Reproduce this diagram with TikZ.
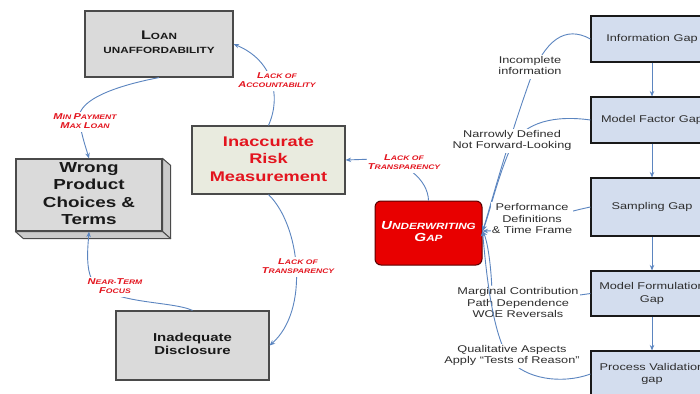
\documentclass[tikz,border=0pt]{standalone}
\usepackage{fontspec}
\setmainfont{Liberation Sans}
\usetikzlibrary{arrows.meta}
\definecolor{arrblue}{HTML}{5B85C0}
\definecolor{boxgray}{HTML}{DADADA}
\definecolor{boxside}{HTML}{CBCBCB}
\definecolor{boxedge}{HTML}{4A4A4A}
\definecolor{greenbox}{HTML}{E9EBDF}
\definecolor{bluebox}{HTML}{D3DDEE}
\definecolor{labred}{HTML}{E3141E}
\definecolor{labgray}{HTML}{2E2E2E}
\definecolor{ugred}{HTML}{E80000}
\definecolor{ugedge}{HTML}{5A0000}
\newcommand\wide[1]{\scalebox{1.3}[1]{\begin{tabular}{@{}c@{}}#1\end{tabular}}}
\newcommand\bl[2]{{\fontsize{#1}{#1}\selectfont #2}}
\tikzset{
  graybox/.style={draw=boxedge, fill=boxgray, line width=1.2pt, inner sep=0pt, text=black!90},
  bluebox/.style={draw=black!90, fill=bluebox, line width=1.1pt, inner sep=0pt, text=labgray,
    minimum width=122pt, font=\fontsize{9.8}{12.5}\selectfont},
  conn/.style={draw=arrblue, line width=0.9pt},
  arr/.style={conn, -{Stealth[length=5.5pt,width=4.5pt]}},
  redlab/.style={text=labred, fill=white, inner sep=1pt,
    font=\bfseries\itshape\fontsize{6.6}{9.3}\selectfont},
  graylab/.style={text=labgray, fill=white, inner sep=1pt,
    font=\fontsize{9.8}{11.4}\selectfont},
}
\begin{document}
\begin{tikzpicture}[x=1pt,y=-1pt]
\clip (0,0) rectangle (700,393);
\fill[white] (0,0) rectangle (700,393);

% main boxes
\node[graybox, minimum width=148pt, minimum height=66pt,
  font=\bfseries\fontsize{9}{14}\selectfont] (loan) at (159,44)
  {\wide{\bl{12.5}{L}OAN\\UNAFFORDABILITY}};
\node[graybox, fill=greenbox, minimum width=153pt, minimum height=68pt, text=labred,
  font=\bfseries\fontsize{14}{17.5}\selectfont] (irm) at (268.5,160)
  {\wide{Inaccurate\\Risk\\Measurement}};
\node[graybox, minimum width=146pt, minimum height=72pt,
  font=\bfseries\fontsize{14.5}{17.3}\selectfont] (wp) at (89,195)
  {\wide{Wrong\\Product\\Choices \&\\Terms}};
\fill[boxside, draw=boxedge, line width=1pt, line join=round]
  (wp.north east) -- ++(8,7) -- ([shift={(8,7)}]wp.south east) -- (wp.south east) -- cycle;
\fill[boxside, draw=boxedge, line width=1pt, line join=round]
  (wp.south west) -- ++(8,7) -- ([shift={(8,7)}]wp.south east) -- (wp.south east) -- cycle;
\node[graybox, minimum width=153pt, minimum height=69pt,
  font=\bfseries\fontsize{11.5}{13}\selectfont] (id) at (192.5,345.5)
  {\wide{Inadequate\\Disclosure}};
\node[draw=ugedge, fill=ugred, line width=1pt, rounded corners=6pt, inner sep=0pt,
  minimum width=107pt, minimum height=64pt, text=white,
  font=\bfseries\itshape\fontsize{9}{12}\selectfont] (ug) at (428.5,233)
  {\wide{\bl{11.7}{U}NDERWRITING\\\bl{11.7}{G}AP}};
\coordinate (ugin) at ([yshift=2pt]ug.east);

% right column
\node[bluebox, minimum height=46pt] (ig) at (652,39) {\wide{Information Gap}};
\node[bluebox, minimum height=46pt] (mf) at (652,120) {\wide{Model Factor Gap}};
\node[bluebox, minimum height=58pt] (sg) at (652,207) {\wide{Sampling Gap}};
\node[bluebox, minimum height=45pt, font=\fontsize{9.8}{13}\selectfont] (mfo) at (652,293.5)
  {\wide{Model Formulation\\Gap}};
\node[bluebox, minimum height=46pt, font=\fontsize{9.8}{12}\selectfont] (pv) at (652,374)
  {\wide{Process Validation\\gap}};
\draw[arr] (ig) -- (mf);
\draw[arr] (mf) -- (sg);
\draw[arr] (sg) -- (mfo);
\draw[arr] (mfo) -- (pv);

% left cycle connectors
\draw[arr] (irm.north) .. controls (282,95) and (272,60) .. (loan.east);
\draw[arr] (loan.south) .. controls (120,85) and (70,100) .. (80,125)
  .. controls (83,140) and (86,148) .. (wp.north);
\draw[arr] (id.north) .. controls (170,300) and (100,305) .. (90,275)
  .. controls (86,262) and (88,245) .. (wp.south);
\draw[arr] (irm.south) .. controls (300,225) and (310,310) .. (id.east);
\draw[arr] (ug.north) .. controls (428,180) and (405,160) .. (375,159) -- (irm.east);

% gap connectors
\draw[arr] (ig.west) .. controls (565,25) and (545,40) .. (530,80)
  .. controls (505,150) and (488,215) .. (ugin);
\draw[arr] (mf.west) .. controls (555,115) and (525,122) .. (512,145)
  .. controls (498,175) and (489,215) .. (ugin);
\draw[arr] (sg.west) .. controls (560,213) and (510,231) .. (ugin);
\draw[arr] (mfo.west) .. controls (575,296) and (500,305) .. (492,292)
  .. controls (491,262) and (487,240) .. (ugin);

% labels
\node[redlab] (lacc) at (277,81) {\wide{\bl{8.5}{L}ACK OF\\\bl{8.5}{A}CCOUNTABILITY}};
\node[redlab] (lt1) at (404,163) {\wide{\bl{8.5}{L}ACK OF\\\bl{8.5}{T}RANSPARENCY}};
\node[redlab] (lt2) at (298,267) {\wide{\bl{8.5}{L}ACK OF\\\bl{8.5}{T}RANSPARENCY}};
\node[redlab] (mpml) at (85,122) {\wide{\bl{8.5}{M}IN \bl{8.5}{P}AYMENT\\\bl{8.5}{M}AX \bl{8.5}{L}OAN}};
\node[redlab] (ntf) at (115,287) {\wide{\bl{8.5}{N}EAR-\bl{8.5}{T}ERM\\\bl{8.5}{F}OCUS}};

\node[graylab] (ii) at (530,67) {\wide{Incomplete\\information}};
\node[graylab] (nd) at (512,141) {\wide{Narrowly Defined\\Not Forward-Looking}};
\node[graylab] (pd) at (532,220) {\wide{Performance\\Definitions\\\& Time Frame}};
\node[graylab] (mc) at (518,304) {\wide{Marginal Contribution\\Path Dependence\\WOE Reversals}};

\draw[arr] (pv.west) .. controls (560,385) and (525,378) .. (510,360)
  .. controls (492,335) and (486,270) .. (ugin);
\node[graylab] (qa) at (512,356) {\wide{Qualitative Aspects\\Apply “Tests of Reason”}};
\end{tikzpicture}
\end{document}
